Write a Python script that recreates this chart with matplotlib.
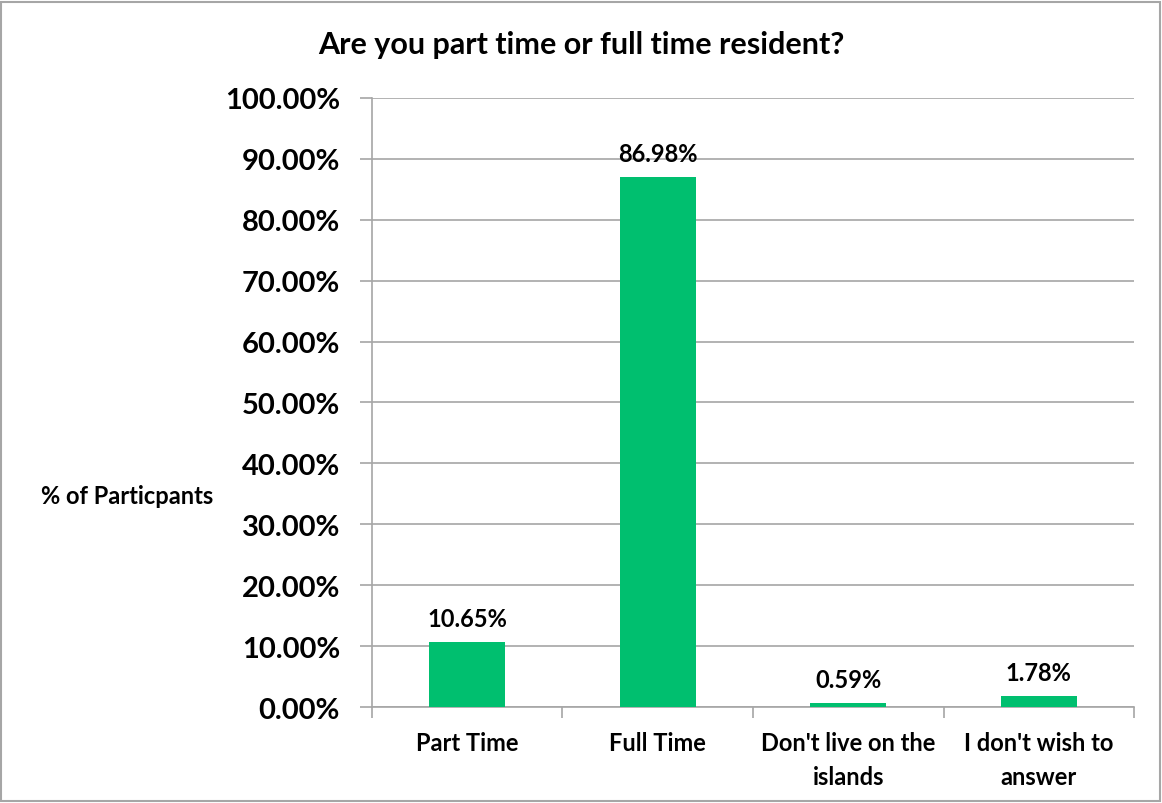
import matplotlib.pyplot as plt
from matplotlib.patches import Rectangle
from matplotlib.ticker import FixedLocator

plt.rcParams['font.family'] = ['Lato', 'DejaVu Sans']
plt.rcParams['font.weight'] = 'bold'

categories = ["Part Time", "Full Time", "Don't live on the\nislands", "I don't wish to\nanswer"]
values = [10.65, 86.98, 0.59, 1.78]
yticks = [0, 10, 20, 30, 40, 50, 60, 70, 80, 90, 100]

bar_color = '#00BF6F'
line_color = '#A6A6A6'

fig = plt.figure(figsize=(11.62, 8.04), dpi=100)
ax = fig.add_axes([0.320, 0.1194, 0.656, 0.7575])

x = range(len(categories))
ax.bar(x, values, width=0.4, color=bar_color, zorder=3)

for xi, v in zip(x, values):
    ax.text(xi, v + 2.0, '%.2f%%' % v, ha='center', va='bottom',
            fontsize=17, fontweight='bold')

ax.set_xlim(-0.5, len(categories) - 0.5)
ax.set_ylim(0, 100)
ax.set_yticks(yticks)
ax.set_yticklabels(['%.2f%%' % t for t in yticks], fontsize=21, fontweight='bold')
ax.yaxis.grid(True, color=line_color, linewidth=1.2, zorder=0)

ax.set_xticks(list(x))
ax.set_xticklabels(categories, fontsize=17, fontweight='bold', linespacing=1.6)
ax.xaxis.set_minor_locator(FixedLocator([i - 0.5 for i in range(len(categories) + 1)]))
ax.tick_params(axis='x', which='major', length=0, pad=17)
ax.tick_params(axis='x', which='minor', length=8, color=line_color, width=1.2)
ax.tick_params(axis='y', length=9, color=line_color, width=1.2, pad=14)

for side in ['top', 'right']:
    ax.spines[side].set_visible(False)
for side in ['left', 'bottom']:
    ax.spines[side].set_color(line_color)
    ax.spines[side].set_linewidth(1.2)

fig.text(0.109, 0.383, '% of Particpants', ha='center', va='center',
         fontsize=17, fontweight='bold')
fig.text(0.5, 0.944, 'Are you part time or full time resident?', ha='center',
         va='center', fontsize=22, fontweight='bold')

fig.patches.append(Rectangle((0.001, 0.002), 0.997, 0.994, transform=fig.transFigure,
                             fill=False, edgecolor=line_color, linewidth=1.5))

fig.savefig('out.png', dpi=100)
